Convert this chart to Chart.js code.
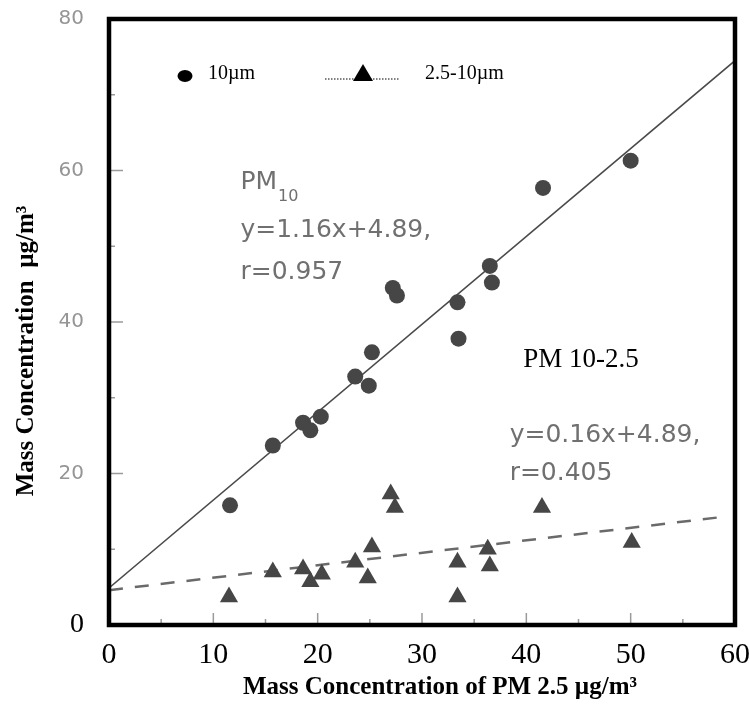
<!DOCTYPE html>
<html>
<head>
<meta charset="utf-8">
<script src="https://cdn.jsdelivr.net/npm/chart.js@4.4.1/dist/chart.umd.min.js"></script>
<style>
    html, body { margin: 0; padding: 0; background: #fff; }
    #wrap { width: 750px; height: 704px; }
</style>
</head>
<body>
<div id="wrap"><canvas id="grafico"></canvas></div>
<script>
// PM2.5 (x) e PM10 (y) - círculos
const pm25Fine = [11.6, 15.7, 18.6, 19.3, 20.3, 23.6, 24.9, 25.2, 27.2, 27.6, 33.4, 33.5, 36.5, 36.7, 41.6, 50.0];
const pm10Vals = [15.8, 23.7, 26.7, 25.7, 27.5, 32.8, 31.6, 36.0, 44.5, 43.5, 42.6, 37.8, 47.4, 45.2, 57.7, 61.3];

// PM2.5 (x) e PM 10-2.5 (y) - triângulos
const pm25Coarse = [11.5, 15.7, 18.6, 19.3, 20.4, 23.6, 24.8, 25.2, 27.0, 27.4, 33.4, 33.4, 36.3, 36.5, 41.5, 50.1];
const coarseVals = [3.7, 7.0, 7.4, 5.7, 6.7, 8.3, 6.2, 10.3, 17.3, 15.5, 8.3, 3.7, 10.0, 7.8, 15.5, 10.9];

// retas de regressão (extremos)
const fitX = [0, 60];
const pm10FitY = [4.89, 74.5];
const coarseFitX = [0, 59];
const coarseFitY = [4.6, 14.3];

const xTicks = [0, 10, 20, 30, 40, 50, 60];
const yTicks = [0, 20, 40, 60, 80];

const toPoints = (xs, ys) => xs.map((x, i) => ({ x: x, y: ys[i] }));

const markColor = '#464646';
const serif = '"Liberation Serif", "Times New Roman", serif';
const sans = '"DejaVu Sans", Verdana, sans-serif';

// zera o padding automático das escalas
function noPad(s) {
    s.paddingTop = 0;
    s.paddingBottom = 0;
    s.paddingLeft = 0;
    s.paddingRight = 0;
}

// moldura, marcas internas, textos e legenda
const extras = {
    id: 'extras',
    afterDraw(chart) {
        const c = chart.ctx;
        const a = chart.chartArea;
        const xs = chart.scales.x;
        const ys = chart.scales.y;
        c.save();

        // marcas internas
        c.strokeStyle = '#9a9a9a';
        c.lineWidth = 1.5;
        for (let v = 5; v < 60; v += 5) {
            const px = xs.getPixelForValue(v);
            const len = v % 10 === 0 ? 12 : 6;
            c.beginPath();
            c.moveTo(px, a.bottom);
            c.lineTo(px, a.bottom - len);
            c.stroke();
        }
        for (let v = 10; v < 80; v += 10) {
            const py = ys.getPixelForValue(v);
            const len = v % 20 === 0 ? 14 : 6;
            c.beginPath();
            c.moveTo(a.left, py);
            c.lineTo(a.left + len, py);
            c.stroke();
        }

        // moldura
        c.strokeStyle = '#000';
        c.lineWidth = 4.5;
        c.strokeRect(a.left, a.top, a.right - a.left, a.bottom - a.top);

        // textos cinza das equações
        c.fillStyle = '#707070';
        c.textBaseline = 'alphabetic';
        c.textAlign = 'left';
        c.font = '25px ' + sans;
        const pmX = xs.getPixelForValue(12.6);
        c.fillText('PM', pmX, ys.getPixelForValue(57.6));
        const pmW = c.measureText('PM').width;
        c.font = '16px ' + sans;
        c.fillText('10', pmX + pmW + 1, ys.getPixelForValue(56.0));
        c.font = '25px ' + sans;
        c.fillText('y=1.16x+4.89,', pmX, ys.getPixelForValue(51.2));
        c.fillText('r=0.957', pmX, ys.getPixelForValue(45.7));
        const cX = xs.getPixelForValue(38.4);
        c.fillText('y=0.16x+4.89,', cX, ys.getPixelForValue(24.1));
        c.fillText('r=0.405', cX, ys.getPixelForValue(19.2));

        c.fillStyle = '#000';
        c.font = '27px ' + serif;
        c.fillText('PM 10-2.5', xs.getPixelForValue(39.7), ys.getPixelForValue(34.0));

        // legenda
        c.font = '20px ' + serif;
        c.textBaseline = 'middle';
        c.beginPath();
        c.ellipse(185, 76, 7.5, 6, 0, 0, Math.PI * 2);
        c.fill();
        c.fillText('10\u00b5m', 208, 74);
        c.strokeStyle = '#000';
        c.lineWidth = 1;
        c.setLineDash([1.5, 1.5]);
        c.beginPath();
        c.moveTo(325, 79);
        c.lineTo(400, 79);
        c.stroke();
        c.setLineDash([]);
        c.beginPath();
        c.moveTo(363, 64);
        c.lineTo(373, 81);
        c.lineTo(353, 81);
        c.closePath();
        c.fill();
        c.fillText('2.5-10\u00b5m', 425, 74);

        // títulos dos eixos
        c.font = 'bold 25px ' + serif;
        c.textAlign = 'center';
        c.fillText('Mass Concentration of PM 2.5 \u00b5g/m\u00b3', 440, 688);
        c.translate(27, 351);
        c.rotate(-Math.PI / 2);
        c.fillText('Mass Concentration  \u00b5g/m\u00b3', 0, 0);

        c.restore();
    }
};

const ctx = document.getElementById('grafico').getContext('2d');
new Chart(ctx, {
    type: 'scatter',
    data: {
        datasets: [
            {
                label: '10\u00b5m',
                data: toPoints(pm25Fine, pm10Vals),
                pointStyle: 'circle',
                pointRadius: 8,
                backgroundColor: markColor,
                borderWidth: 0
            },
            {
                label: '2.5-10\u00b5m',
                data: toPoints(pm25Coarse, coarseVals),
                pointStyle: 'triangle',
                pointRadius: 10.5,
                backgroundColor: markColor,
                borderWidth: 0
            },
            {
                type: 'line',
                label: 'PM10 fit',
                data: toPoints(fitX, pm10FitY),
                borderColor: '#4a4a4a',
                borderWidth: 1.6,
                pointRadius: 0,
                fill: false
            },
            {
                type: 'line',
                label: 'PM10-2.5 fit',
                data: toPoints(coarseFitX, coarseFitY),
                borderColor: '#6a6a6a',
                borderWidth: 2.5,
                borderDash: [14, 12],
                pointRadius: 0,
                fill: false
            }
        ]
    },
    options: {
        responsive: true,
        maintainAspectRatio: false,
        animation: false,
        layout: {
            autoPadding: false,
            padding: { top: 19, right: 15, left: 0, bottom: 0 }
        },
        plugins: {
            legend: { display: false },
            tooltip: { enabled: false }
        },
        scales: {
            x: {
                type: 'linear',
                min: 0,
                max: 60,
                afterFit: (s) => { s.height = 79; noPad(s); },
                afterBuildTicks: (s) => { s.ticks = xTicks.map(v => ({ value: v })); },
                grid: { display: false, drawTicks: false },
                border: { display: false },
                ticks: {
                    color: '#000',
                    font: { family: serif, size: 30 },
                    padding: 12,
                    maxRotation: 0
                }
            },
            y: {
                type: 'linear',
                min: 0,
                max: 80,
                afterFit: (s) => { s.width = 109; noPad(s); },
                afterBuildTicks: (s) => { s.ticks = yTicks.map(v => ({ value: v })); },
                grid: { display: false, drawTicks: false },
                border: { display: false },
                ticks: {
                    padding: 25,
                    color: (c) => (c.tick && c.tick.value === 0 ? '#000' : '#959595'),
                    font: (c) => (c.tick && c.tick.value === 0
                        ? { family: serif, size: 28 }
                        : { family: sans, size: 20 })
                }
            }
        }
    },
    plugins: [extras]
});
</script>
</body>
</html>
